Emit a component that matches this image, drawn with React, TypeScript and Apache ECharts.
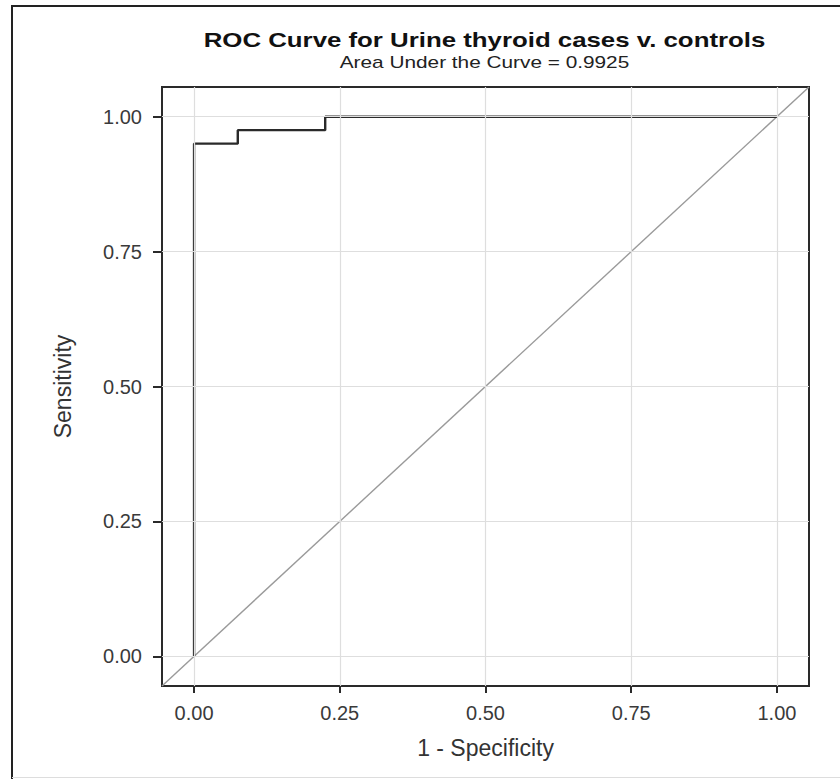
import React, { useEffect, useRef } from "react";
import * as echarts from "echarts";

// ROC curve points (1 - specificity, sensitivity)
const rocFpr = [0, 0, 0.075, 0.075, 0.225, 0.225, 1];
const rocTpr = [0, 0.95, 0.95, 0.975, 0.975, 1, 1];
// Reference (chance) line spans the full axis range
const axisMin = -0.055;
const axisMax = 1.055;
const tickValues = [0, 0.25, 0.5, 0.75, 1];
const titleText = "ROC Curve for Urine thyroid cases v. controls";
const subtitleText = "Area Under the Curve = 0.9925";
const xName = "1 - Specificity";
const yName = "Sensitivity";

const FONT = '"Liberation Sans", Arial, sans-serif';

export default function App() {
  const ref = useRef<HTMLDivElement>(null);
  useEffect(() => {
    if (!ref.current) return;
    const chart = echarts.init(ref.current, undefined, { renderer: "svg" });
    const rocData = rocFpr.map((x, i) => [x, rocTpr[i]]);
    const diagData = [
      [axisMin, axisMin],
      [axisMax, axisMax],
    ];
    const axisCommon = {
      type: "value" as const,
      min: axisMin,
      max: axisMax,
      nameLocation: "middle" as const,
      nameTextStyle: { fontFamily: FONT, fontSize: 23, color: "#333" },
      axisLine: { show: true, onZero: false, lineStyle: { color: "#2a2a2a", width: 2 } },
      axisTick: { show: true, customValues: tickValues, lineStyle: { color: "#2a2a2a", width: 2 } },
      axisLabel: {
        customValues: tickValues,
        fontFamily: FONT,
        fontSize: 20,
        color: "#3a3a3a",
        formatter: (v: number) => v.toFixed(2),
      },
      splitLine: { show: false },
    };
    chart.setOption({
      animation: false,
      backgroundColor: "#fff",
      grid: {
        left: 162,
        right: 31,
        top: 87,
        bottom: 93,
        show: true,
        borderColor: "#2a2a2a",
        borderWidth: 2,
        backgroundColor: "transparent",
      },
      xAxis: {
        ...axisCommon,
        name: xName,
        nameGap: 50,
        axisTick: { ...axisCommon.axisTick, length: 7 },
        axisLabel: { ...axisCommon.axisLabel, margin: 17 },
      },
      yAxis: {
        ...axisCommon,
        name: yName,
        nameGap: 88,
        axisTick: { ...axisCommon.axisTick, length: 9 },
        axisLabel: { ...axisCommon.axisLabel, margin: 20 },
      },
      graphic: [
        {
          type: "text",
          x: 484.5,
          y: 39.5,
          scaleX: 1.23,
          style: {
            text: titleText,
            font: `bold 21px ${FONT}`,
            fill: "#111",
            align: "center",
            verticalAlign: "middle",
          },
        },
        {
          type: "text",
          x: 484.5,
          y: 62.5,
          scaleX: 1.3,
          style: {
            text: subtitleText,
            font: `16px ${FONT}`,
            fill: "#222",
            align: "center",
            verticalAlign: "middle",
          },
        },
        {
          type: "line",
          shape: { x1: 11, y1: 6, x2: 840, y2: 6 },
          style: { stroke: "#222", lineWidth: 2 },
        },
        {
          type: "line",
          shape: { x1: 12, y1: 6, x2: 12, y2: 779 },
          style: { stroke: "#222", lineWidth: 2 },
        },
        {
          type: "line",
          shape: { x1: 12, y1: 777.5, x2: 840, y2: 777.5 },
          style: { stroke: "#ddd", lineWidth: 1 },
        },
      ],
      series: [
        {
          type: "line",
          data: [],
          z: 1,
          silent: true,
          markLine: {
            silent: true,
            symbol: ["none", "none"],
            label: { show: false },
            lineStyle: { color: "#dedede", width: 1.2, type: "solid" },
            data: [
              ...tickValues.map((v) => ({ xAxis: v })),
              ...tickValues.map((v) => ({ yAxis: v })),
            ],
          },
        },
        {
          type: "line",
          data: diagData,
          z: 2,
          showSymbol: false,
          symbol: "none",
          lineStyle: { color: "#9a9a9a", width: 1.4 },
          silent: true,
        },
        {
          type: "line",
          data: rocData,
          z: 3,
          showSymbol: false,
          symbol: "none",
          lineStyle: { color: "#2a2a2a", width: 2.4 },
          silent: true,
        },
      ],
    });
    return () => chart.dispose();
  }, []);
  return (
    <div
      ref={ref}
      style={{ position: "fixed", left: 0, top: 0, width: 840, height: 779, background: "#fff" }}
    />
  );
}
